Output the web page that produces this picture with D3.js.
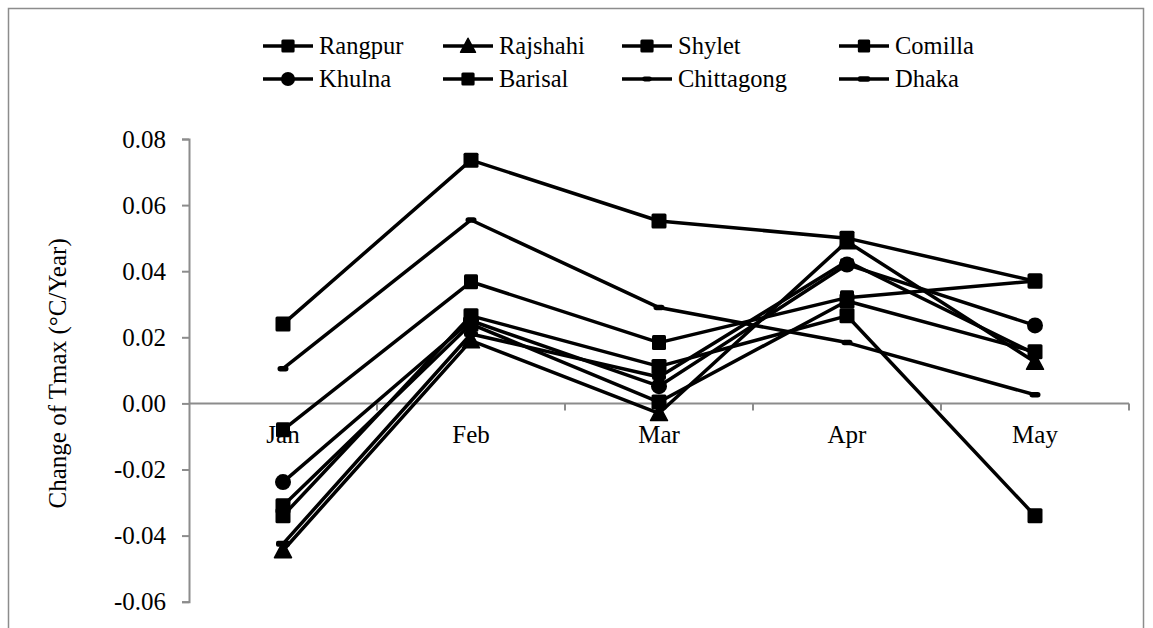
<!DOCTYPE html>
<html>
<head>
<meta charset="utf-8">
<script src="https://cdn.jsdelivr.net/npm/d3@7"></script>
<style>
  html, body { margin: 0; padding: 0; background: #fff; }
  svg { display: block; }
  svg text { font-family: "Liberation Serif", "Times New Roman", Tinos, "DejaVu Serif", serif; fill: #000; }
</style>
</head>
<body>
<svg id="chart" width="1153" height="628"></svg>
<script>
// Monthly trend of maximum temperature (°C/Year) by division
const months = ["Jan", "Feb", "Mar", "Apr", "May"];
const yTicks = [-0.06, -0.04, -0.02, 0.00, 0.02, 0.04, 0.06, 0.08];

const rangpur    = [-0.034, 0.0265, 0.0112, 0.0265, -0.034];
const rajshahi   = [-0.0445, 0.019, -0.003, 0.049, 0.0125];
const shylet     = [0.024, 0.0736, 0.0552, 0.050, 0.037];
const comilla    = [-0.008, 0.0368, 0.0184, 0.032, 0.037];
const khulna     = [-0.0238, 0.025, 0.0052, 0.042, 0.0236];
const barisal    = [-0.031, 0.024, 0.0004, 0.031, 0.0156];
const chittagong = [0.0105, 0.0555, 0.029, 0.0184, 0.0026];
const dhaka      = [-0.0425, 0.021, 0.008, 0.043, 0.015];

const seriesNames = ["Rangpur", "Rajshahi", "Shylet", "Comilla", "Khulna", "Barisal", "Chittagong", "Dhaka"];
const seriesValues = [rangpur, rajshahi, shylet, comilla, khulna, barisal, chittagong, dhaka];
const seriesMarkers = ["square", "triangle", "square", "rect", "circle", "square", "dash", "dashWide"];

const series = seriesNames.map((name, i) => ({ name, values: seriesValues[i], marker: seriesMarkers[i] }));

const SERIF = '"Liberation Serif", "Times New Roman", Tinos, "DejaVu Serif", serif';
const svg = d3.select("#chart");
const FONT = 25;
const axisColor = "#8c8c8c";

// frame around the chart
svg.append("rect")
  .attr("x", 8.5).attr("y", 8.5)
  .attr("width", 1135).attr("height", 640)
  .attr("fill", "none").attr("stroke", axisColor).attr("stroke-width", 1.5);

const plot = { left: 189, right: 1129, top: 139, bottom: 601.7 };

const x = d3.scaleBand().domain(months).range([plot.left, plot.right]).padding(0);
const y = d3.scaleLinear().domain([-0.06, 0.08]).range([plot.bottom, plot.top]);
const cx = m => x(m) + x.bandwidth() / 2;

// y axis (plain hyphen for negatives)
const fmt = d => (d < 0 ? "-" : "") + Math.abs(d).toFixed(2);
const yAxis = d3.axisLeft(y).tickValues(yTicks).tickSize(7).tickPadding(16).tickFormat(fmt);
const gy = svg.append("g").attr("transform", `translate(${plot.left},0)`).call(yAxis)
  .attr("font-family", SERIF).attr("font-size", FONT);
gy.select(".domain").attr("stroke", axisColor).attr("stroke-width", 2);
gy.selectAll(".tick line").attr("stroke", axisColor).attr("stroke-width", 2);
gy.selectAll(".tick text").attr("font-family", SERIF).attr("font-size", FONT).attr("fill", "#000");

// x axis at zero, with ticks between categories
const gx = svg.append("g").attr("transform", `translate(0,${y(0)})`);
gx.append("line").attr("x1", plot.left).attr("x2", plot.right)
  .attr("stroke", axisColor).attr("stroke-width", 2);
months.forEach(m => {
  gx.append("line")
    .attr("x1", x(m) + x.bandwidth()).attr("x2", x(m) + x.bandwidth())
    .attr("y1", 0).attr("y2", 7)
    .attr("stroke", axisColor).attr("stroke-width", 2);
});
gx.selectAll("text.cat").data(months).join("text")
  .attr("class", "cat")
  .attr("x", d => cx(d)).attr("y", 40)
  .attr("text-anchor", "middle")
  .attr("font-family", SERIF).attr("font-size", FONT)
  .text(d => d);

// axis title
svg.append("text")
  .attr("transform", `translate(66,${(plot.top + plot.bottom) / 2 + 3}) rotate(-90)`)
  .attr("text-anchor", "middle")
  .attr("font-family", SERIF).attr("font-size", FONT)
  .text("Change of Tmax (°C/Year)");

// marker drawing
function drawMarker(g, type, px, py, scale) {
  const s = scale || 1;
  if (type === "square") {
    const w = 15 * s;
    g.append("rect").attr("x", px - w / 2).attr("y", py - w / 2)
      .attr("width", w).attr("height", w).attr("rx", 1.5).attr("fill", "#000");
  } else if (type === "rect") {
    const w = 14 * s, h = 15 * s;
    g.append("rect").attr("x", px - w / 2).attr("y", py - h / 2)
      .attr("width", w).attr("height", h).attr("rx", 1.5).attr("fill", "#000");
  } else if (type === "circle") {
    g.append("circle").attr("cx", px).attr("cy", py).attr("r", 8 * s).attr("fill", "#000");
  } else if (type === "triangle") {
    const h = 16 * s, w = 17 * s;
    g.append("path")
      .attr("d", `M${px},${py - h * 0.55} L${px + w / 2},${py + h * 0.45} L${px - w / 2},${py + h * 0.45} Z`)
      .attr("fill", "#000").attr("stroke", "#000").attr("stroke-linejoin", "round").attr("stroke-width", 1.5);
  } else if (type === "dash") {
    const w = 11 * s, h = 5.5 * s;
    g.append("rect").attr("x", px - w / 2).attr("y", py - h / 2)
      .attr("width", w).attr("height", h).attr("rx", h / 2).attr("fill", "#000");
  } else if (type === "dashWide") {
    const w = 14 * s, h = 6 * s;
    g.append("rect").attr("x", px - w / 2).attr("y", py - h / 2)
      .attr("width", w).attr("height", h).attr("rx", 2).attr("fill", "#000");
  }
}

// series lines and markers
const line = d3.line().x((d, i) => cx(months[i])).y(d => y(d));
const gs = svg.append("g");
series.forEach(s => {
  const g = gs.append("g");
  g.append("path").datum(s.values).attr("d", line)
    .attr("fill", "none").attr("stroke", "#000").attr("stroke-width", 3.5)
    .attr("stroke-linejoin", "round");
  s.values.forEach((v, i) => drawMarker(g, s.marker, cx(months[i]), y(v), 1));
});

// legend
const legendCols = [263, 443, 622, 839];
const legendRows = [46, 79];
const lg = svg.append("g");
series.forEach((s, i) => {
  const lx = legendCols[i % 4], ly = legendRows[Math.floor(i / 4)];
  lg.append("line").attr("x1", lx).attr("x2", lx + 50).attr("y1", ly).attr("y2", ly)
    .attr("stroke", "#000").attr("stroke-width", 3.5);
  drawMarker(lg, s.marker, lx + 25, ly, 0.88);
  lg.append("text").attr("x", lx + 56).attr("y", ly + 8)
    .attr("font-family", SERIF).attr("font-size", 24.5).text(s.name);
});
</script>
</body>
</html>
